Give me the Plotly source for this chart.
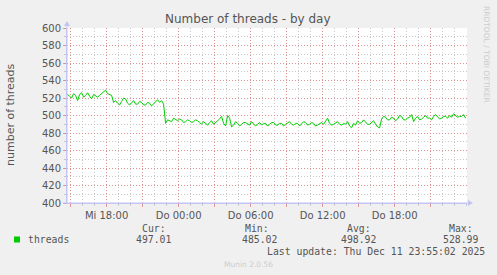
import plotly.graph_objects as go
import pandas as pd

# ---- data (10-minute samples) ----
threads = [
    522, 524, 522, 520, 525, 523, 517, 524, 526, 521, 523, 526, 522, 519, 524, 522,
    521, 523, 525, 527, 529, 525, 524, 523,
    515, 517, 514, 512, 516, 520, 519, 514, 512, 515, 517, 513, 513, 516, 515, 512,
    512, 515, 514, 511, 513, 516, 518, 515, 517, 513,
    491, 495, 494, 493, 497, 495, 494, 496, 495, 492, 493, 495, 494, 492, 493, 495,
    494, 492, 490, 493, 491, 489, 492, 494, 490, 492, 493, 496, 499, 491, 488, 500,
    497, 487, 489, 493, 491, 488, 490, 492, 492, 490, 489, 493, 491, 488, 490, 492,
    489, 491, 491, 488, 490, 492, 492, 489, 489, 491, 491, 488, 490, 492, 493, 490,
    489, 491, 491, 488, 490, 493, 492, 489, 490, 492, 491, 488, 489, 491, 492, 490,
    494, 497, 491, 489, 490, 492, 493, 490, 489, 491, 490, 493, 488, 486, 491, 489,
    494, 491, 492, 495, 493, 490, 490, 492, 494, 490, 487, 486,
    496, 499, 498, 495, 495, 498, 497, 494, 496, 500, 499, 495, 495, 497, 498, 501,
    493, 497, 499, 495, 496, 498, 500, 497, 497, 495, 499, 501, 498, 496, 497, 499,
    499, 497, 500, 498, 502, 500, 498, 499, 499, 501, 497,
]
times = pd.date_range(end="2025-12-11 23:55:00", periods=len(threads), freq="10min")

x_range = ["2025-12-10 14:42:00", "2025-12-12 00:02:00"]
x_tick_vals = list(pd.date_range("2025-12-10 15:00", "2025-12-11 21:00", freq="3h"))
x_tick_text = ["", "Mi 18:00", "", "Do 00:00", "", "Do 06:00", "", "Do 12:00", "", "Do 18:00", ""]
y_tick_vals = list(range(400, 601, 20))

title = "Number of threads - by day"
y_title = "number of threads"
series_name = "threads"
stat_labels = ["Cur:", "Min:", "Avg:", "Max:"]
stat_values = ["497.01", "485.02", "498.92", "528.99"]
last_update = "Last update: Thu Dec 11 23:55:02 2025"
version = "Munin 2.0.56"
side_text = "RRDTOOL / TOBI OETIKER"

# ---- layout helpers (pixel -> paper) ----
W, H = 497, 275
L, R, T, B = 67, 30, 28, 72
PW, PH = W - L - R, H - T - B


def px(x):
    return (x - L) / PW


def py(y):
    return (H - B - y) / PH


GREEN = "#00CC00"
TXT = "#555555"
MAJOR = "rgba(230,120,120,0.7)"
MINOR = "rgba(190,190,190,0.85)"
AXIS = "#c4c4f4"

fig = go.Figure()
fig.add_trace(go.Scatter(x=times, y=threads, mode="lines",
                         line=dict(color=GREEN, width=1), showlegend=False,
                         hoverinfo="skip"))

fig.update_layout(
    width=W, height=H,
    margin=dict(l=L, r=R, t=T, b=B),
    paper_bgcolor="#F0F0F0", plot_bgcolor="#FFFFFF",
    font=dict(family="DejaVu Sans", size=10, color=TXT),
    showlegend=False,
)
fig.update_xaxes(
    type="date", range=x_range, fixedrange=True,
    tickvals=x_tick_vals, ticktext=x_tick_text,
    showgrid=True, gridcolor=MAJOR, griddash="1px,2px", gridwidth=1,
    ticks="outside", ticklen=3, tickcolor=MAJOR,
    showline=True, linecolor=AXIS, linewidth=1,
    tickfont=dict(family="DejaVu Sans", size=10, color=TXT),
    minor=dict(dtick=3600000, showgrid=True, gridcolor=MINOR, griddash="1px,2px",
               ticks="outside", ticklen=2, tickcolor=MINOR),
    zeroline=False,
)
fig.update_yaxes(
    range=[400, 600], fixedrange=True, tickvals=y_tick_vals,
    showgrid=True, gridcolor=MAJOR, griddash="1px,2px", gridwidth=1,
    ticks="outside", ticklen=3, tickcolor=MAJOR,
    showline=True, linecolor=AXIS, linewidth=1,
    tickfont=dict(family="DejaVu Sans", size=10, color=TXT),
    minor=dict(dtick=10, showgrid=True, gridcolor=MINOR, griddash="1px,2px",
               ticks="outside", ticklen=2, tickcolor=MINOR),
    zeroline=False,
)

ann = []
ann.append(dict(text=title, x=px(248), y=py(19), xanchor="center", yanchor="middle",
                font=dict(family="DejaVu Sans", size=12, color="#555555")))
ann.append(dict(text=y_title, x=px(10), y=py(115), xanchor="center", yanchor="middle",
                textangle=-90, font=dict(family="DejaVu Sans", size=11, color=TXT)))
ann.append(dict(text=side_text, x=px(487), y=py(54), xanchor="center", yanchor="middle",
                textangle=90, font=dict(family="DejaVu Sans", size=7.5, color="#cccccc")))
MONO = "DejaVu Sans Mono"
ann.append(dict(text=series_name, x=px(26), y=py(239), xanchor="left", yanchor="middle",
                font=dict(family=MONO, size=9.8, color=TXT)))
label_x = [140, 243, 345, 447]
value_x = [134, 240, 339, 441]
for lx, vx, lab, val in zip(label_x, value_x, stat_labels, stat_values):
    ann.append(dict(text=lab, x=px(lx), y=py(228), xanchor="left", yanchor="middle",
                    font=dict(family=MONO, size=9.8, color=TXT)))
    ann.append(dict(text=val, x=px(vx), y=py(239.5), xanchor="left", yanchor="middle",
                    font=dict(family=MONO, size=9.8, color=TXT)))
ann.append(dict(text=last_update, x=px(265), y=py(251), xanchor="left", yanchor="middle",
                font=dict(family=MONO, size=9.8, color=TXT)))
ann.append(dict(text=version, x=px(248), y=py(264), xanchor="center", yanchor="middle",
                font=dict(family="DejaVu Sans", size=7.5, color="#cccccc")))
for a in ann:
    a.update(xref="paper", yref="paper", showarrow=False)
fig.update_layout(annotations=ann)

shapes = []
# legend colour box
shapes.append(dict(type="rect", xref="paper", yref="paper",
                   x0=px(14), x1=px(20), y0=py(242.5), y1=py(236.5),
                   fillcolor=GREEN, line=dict(width=0)))
# axis extensions and arrows
shapes.append(dict(type="line", xref="paper", yref="paper",
                   x0=px(67), x1=px(67), y0=py(203), y1=py(24), line=dict(color=AXIS, width=1)))
shapes.append(dict(type="line", xref="paper", yref="paper",
                   x0=px(63), x1=px(470), y0=py(203), y1=py(203), line=dict(color=AXIS, width=1)))
shapes.append(dict(type="path", xref="paper", yref="paper",
                   path=f"M {px(64)} {py(26)} L {px(70)} {py(26)} L {px(67)} {py(21)} Z",
                   fillcolor=AXIS, line=dict(width=0)))
shapes.append(dict(type="path", xref="paper", yref="paper",
                   path=f"M {px(468)} {py(200)} L {px(468)} {py(206)} L {px(473)} {py(203)} Z",
                   fillcolor=AXIS, line=dict(width=0)))
fig.update_layout(shapes=shapes)

fig.write_html("out.html")
